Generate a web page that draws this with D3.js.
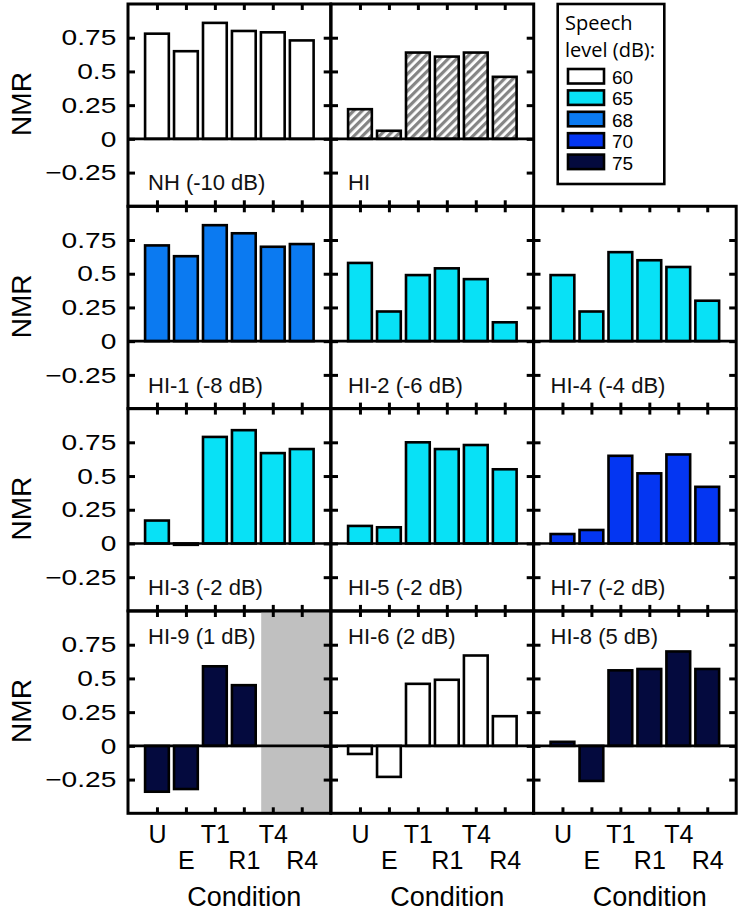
<!DOCTYPE html>
<html>
<head>
<meta charset="utf-8">
<script src="https://cdn.jsdelivr.net/npm/d3@7"></script>
<style>
  html, body { margin: 0; padding: 0; background: #fff; }
  svg { display: block; }
</style>
</head>
<body>
<svg id="chart" width="742" height="911"></svg>
<script>
// ---------- data ----------
const categories = ["U", "E", "T1", "R1", "T4", "R4"];
const yTicks = [-0.25, 0, 0.25, 0.5, 0.75];
const yTickLabels = ["\u22120.25", "0", "0.25", "0.5", "0.75"];
const levels = [60, 65, 68, 70, 75];
const levelColors = ["#ffffff", "#08e1f6", "#0b7af1", "#0436f2", "#040a3e"];

const panelNames = ["NH (-10 dB)", "HI", "HI-1 (-8 dB)", "HI-2 (-6 dB)", "HI-4 (-4 dB)",
  "HI-3 (-2 dB)", "HI-5 (-2 dB)", "HI-7 (-2 dB)", "HI-9 (1 dB)", "HI-6 (2 dB)", "HI-8 (5 dB)"];
const panelLevels = [60, null, 68, 65, 65, 65, 65, 70, 75, 60, 75];

const nh  = [0.78, 0.65, 0.86, 0.80, 0.79, 0.73];
const hi  = [0.22, 0.06, 0.64, 0.61, 0.64, 0.46];
const hi1 = [0.71, 0.63, 0.86, 0.80, 0.70, 0.72];
const hi2 = [0.58, 0.22, 0.49, 0.54, 0.46, 0.14];
const hi4 = [0.49, 0.22, 0.66, 0.60, 0.55, 0.30];
const hi3 = [0.17, -0.01, 0.79, 0.84, 0.67, 0.70];
const hi5 = [0.13, 0.12, 0.75, 0.70, 0.73, 0.55];
const hi7 = [0.07, 0.10, 0.65, 0.52, 0.66, 0.42];
const hi9 = [-0.34, -0.32, 0.59, 0.45, null, null];
const hi6 = [-0.06, -0.23, 0.46, 0.49, 0.67, 0.22];
const hi8 = [0.03, -0.26, 0.56, 0.57, 0.70, 0.57];
const panelValues = [nh, hi, hi1, hi2, hi4, hi3, hi5, hi7, hi9, hi6, hi8];
// panel HI-9: missing conditions region (shaded), in x-domain units
const missingStart = 4.6;

// ---------- layout ----------
const colX = [128, 331, 533.5];
const rowY = [4, 206.3, 408.6, 611];
const panelW = 202.7, panelH = 202.3;
const layout = [[0,0],[0,1],[1,0],[1,1],[1,2],[2,0],[2,1],[2,2],[3,0],[3,1],[3,2]];
const FONT = "'Liberation Sans', Arial, Helvetica, sans-serif";

const svg = d3.select("#chart");
const defs = svg.append("defs");
const pat = defs.append("pattern").attr("id", "hatch")
  .attr("patternUnits", "userSpaceOnUse").attr("width", 6).attr("height", 6)
  .attr("patternTransform", "rotate(45)");
pat.append("rect").attr("width", 6).attr("height", 6).attr("fill", "#ffffff");
pat.append("rect").attr("width", 3.2).attr("height", 6).attr("fill", "#858585");

const colorOf = lv => lv == null ? "url(#hatch)" : levelColors[levels.indexOf(lv)];

const x = d3.scaleLinear().domain([0, 7]).range([0, panelW]);
const y = d3.scaleLinear().domain([-0.5, 1]).range([panelH, 0]);
const bw = x(0.82) - x(0);
const xTickVals = d3.range(1, categories.length + 1);

panelNames.forEach((name, p) => {
  const [r, c] = layout[p];
  const g = svg.append("g").attr("transform", `translate(${colX[c]},${rowY[r]})`);
  const vals = panelValues[p];

  if (p === 8) {
    g.append("rect").attr("x", x(missingStart)).attr("y", 0)
      .attr("width", x(7) - x(missingStart)).attr("height", panelH).attr("fill", "#c0c0c0");
  }

  g.selectAll("rect.bar").data(vals.map((v, i) => ({v, i})).filter(d => d.v != null))
    .join("rect").attr("class", "bar")
    .attr("x", d => x(d.i + 1) - bw / 2)
    .attr("y", d => y(Math.max(d.v, 0)))
    .attr("width", bw)
    .attr("height", d => Math.abs(y(d.v) - y(0)))
    .attr("fill", colorOf(panelLevels[p]))
    .attr("stroke", "#000").attr("stroke-width", 2.6);

  // zero line
  g.append("line").attr("x1", 0).attr("x2", panelW).attr("y1", y(0)).attr("y2", y(0))
    .attr("stroke", "#000").attr("stroke-width", 2.6);

  // axes
  const left = g.append("g").call(d3.axisLeft(y).tickValues(yTicks)
    .tickSizeInner(-7).tickSizeOuter(0).tickPadding(9.4)
    .tickFormat((d, i) => c === 0 ? yTickLabels[i] : ""));
  const right = g.append("g").attr("transform", `translate(${panelW},0)`)
    .call(d3.axisRight(y).tickValues(yTicks).tickSizeInner(-7).tickSizeOuter(0).tickFormat(""));
  const top = g.append("g").call(d3.axisTop(x).tickValues(xTickVals)
    .tickSizeInner(-6).tickSizeOuter(0).tickFormat(""));
  const bottom = g.append("g").attr("transform", `translate(0,${panelH})`)
    .call(d3.axisBottom(x).tickValues(xTickVals).tickSizeInner(-6).tickSizeOuter(0)
      .tickPadding(12).tickFormat((d, i) => r === 3 ? categories[i] : ""));
  [left, right, top, bottom].forEach(a => {
    a.select(".domain").remove();
    a.selectAll(".tick line").attr("stroke", "#000").attr("stroke-width", 3);
    a.attr("font-family", FONT);
  });
  left.attr("font-size", 22.5);
  left.selectAll(".tick text").attr("fill", "#000")
    .attr("transform", "scale(1.25,1)");
  bottom.attr("font-size", 25);
  bottom.selectAll(".tick text").attr("fill", "#000")
    .attr("y", (d, i) => i % 2 === 0 ? 12 : 38);

  // border
  g.append("rect").attr("x", 0).attr("y", 0).attr("width", panelW).attr("height", panelH)
    .attr("fill", "none").attr("stroke", "#000").attr("stroke-width", 3);

  // panel label
  const labelTop = r === 3;
  g.append("text").attr("x", c === 0 ? 20 : 17).attr("y", labelTop ? 33 : panelH - 16)
    .attr("font-family", FONT).attr("font-size", 22).attr("fill", "#111")
    .text(name);

  if (c === 0) {
    svg.append("text").attr("transform", `translate(31,${rowY[r] + 100}) rotate(-90)`)
      .attr("text-anchor", "middle").attr("font-family", FONT).attr("font-size", 28)
      .attr("fill", "#000").text("NMR");
  }
  if (r === 3) {
    svg.append("text").attr("x", colX[c] + panelW / 2 + 15).attr("y", 906)
      .attr("text-anchor", "middle").attr("font-family", FONT).attr("font-size", 27)
      .attr("fill", "#000").text("Condition");
  }
});

// ---------- legend ----------
const lg = svg.append("g");
lg.append("rect").attr("x", 557.7).attr("y", 4).attr("width", 106.6).attr("height", 180)
  .attr("fill", "#fff").attr("stroke", "#000").attr("stroke-width", 2.6);
lg.append("text").attr("x", 565).attr("y", 30).attr("font-family", "'Open Sans', sans-serif")
  .attr("font-size", 20).attr("fill", "#000").text("Speech");
lg.append("text").attr("x", 565).attr("y", 57).attr("font-family", "'Open Sans', sans-serif")
  .attr("font-size", 20).attr("fill", "#000").text("level (dB):");
const item = lg.selectAll("g.item").data(levels).join("g").attr("class", "item")
  .attr("transform", (d, i) => `translate(568,${69 + i * 21.4})`);
item.append("rect").attr("width", 36).attr("height", 14.5)
  .attr("fill", d => colorOf(d)).attr("stroke", "#000").attr("stroke-width", 2.6);
item.append("text").attr("x", 44).attr("y", 15).attr("font-family", FONT)
  .attr("font-size", 19).attr("fill", "#000").text(d => d);
</script>
</body>
</html>
